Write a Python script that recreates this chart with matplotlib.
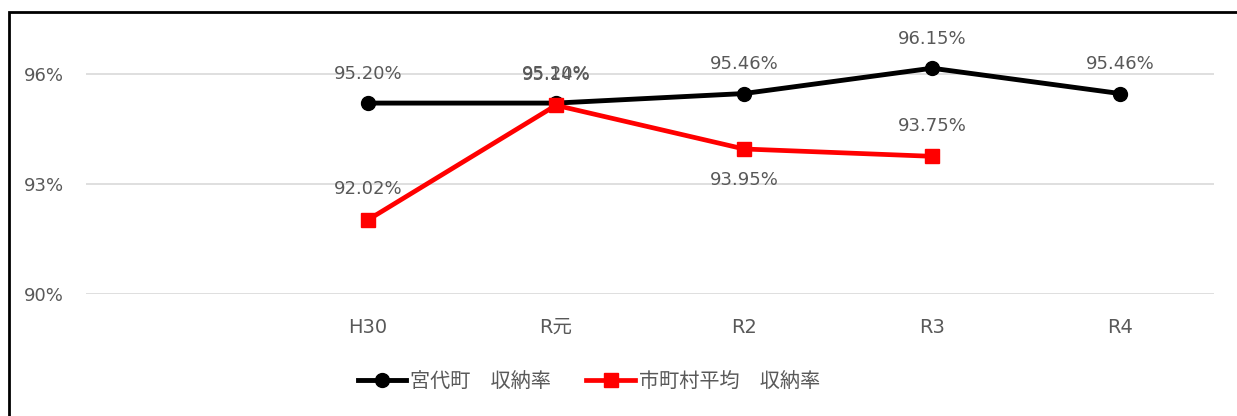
import matplotlib.pyplot as plt
from matplotlib.patches import Rectangle

plt.rcParams['font.family'] = ['DejaVu Sans', 'Noto Sans CJK JP']

# Excel chart has a blank first category
categories = ["", "H30", "R元", "R2", "R3", "R4"]
miyashiro = [None, 95.20, 95.20, 95.46, 96.15, 95.46]
town_avg = [None, 92.02, 95.14, 93.95, 93.75, None]
avg_label_below = [False, False, False, True, False, False]

W, H = 1237, 416
fig = plt.figure(figsize=(W / 100, H / 100), dpi=100)
ax = fig.add_axes([86 / W, 1 - 294 / H, (1214 - 86) / W, (294 - 37) / H])

gray = "#595959"
x = list(range(len(categories)))

def pts(vals):
    xs = [i for i, v in zip(x, vals) if v is not None]
    ys = [v for v in vals if v is not None]
    return xs, ys

bx, by = pts(miyashiro)
rx, ry = pts(town_avg)
ax.plot(bx, by, color="black", lw=3.5, marker="o", ms=10, zorder=3,
        label="宮代町　収納率")
ax.plot(rx, ry, color="#FF0000", lw=3.4, marker="s", ms=9.5, zorder=4,
        label="市町村平均　収納率")

for xi, v in zip(bx, by):
    ax.annotate(f"{v:.2f}%", (xi, v), xytext=(0, 21), textcoords="offset points",
                ha="center", va="center", fontsize=13, color=gray)
for xi, v in zip(rx, ry):
    off = -22 if avg_label_below[xi] else 22
    ax.annotate(f"{v:.2f}%", (xi, v), xytext=(0, off), textcoords="offset points",
                ha="center", va="center", fontsize=13, color=gray)

ax.set_xlim(-0.5, len(categories) - 0.5)
ax.set_ylim(90, 97)
ax.set_yticks([90, 93, 96])
ax.set_yticklabels(["90%", "93%", "96%"])
ax.set_xticks(x)
ax.set_xticklabels(categories)
ax.tick_params(length=0, colors=gray)
ax.tick_params(axis="y", pad=16, labelsize=13)
ax.tick_params(axis="x", pad=17, labelsize=14)
ax.grid(axis="y", color="#D9D9D9", lw=1.2)
ax.set_axisbelow(True)
for s in ax.spines.values():
    s.set_visible(False)

leg = fig.legend(loc="center", bbox_to_anchor=(589 / W, 1 - 382 / H), ncol=2,
                 frameon=False, handlelength=2.4, columnspacing=1.75,
                 handletextpad=0.2, prop={"family": ["Noto Sans CJK JP"], "size": 14.5})
for t in leg.get_texts():
    t.set_color(gray)

fig.patches.append(Rectangle((8.5 / W, -0.1), 1.2, 1 - 11.5 / H + 0.1,
                             transform=fig.transFigure, fill=False,
                             edgecolor="black", lw=2, clip_on=False))

fig.savefig("out.png", dpi=100, facecolor="white")
